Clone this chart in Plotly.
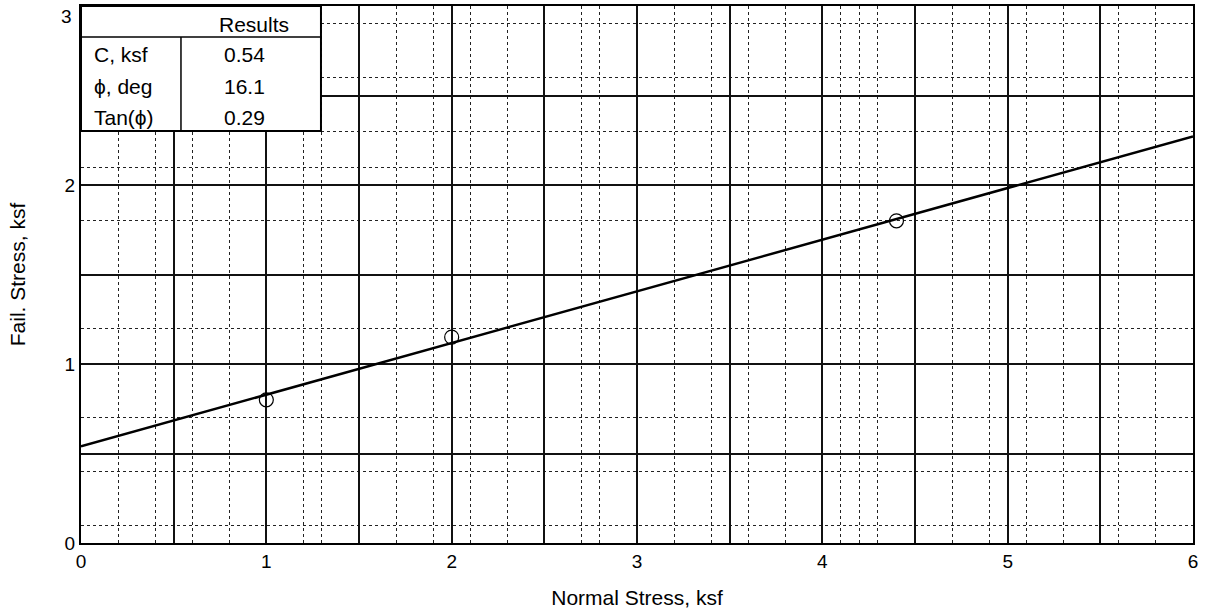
import plotly.graph_objects as go

# ---- data ----
normal_stress = [1.0, 2.0, 4.4]          # ksf
fail_stress = [0.80, 1.15, 1.80]          # ksf
cohesion = 0.54                           # ksf
tan_phi = 0.2886
fit_x = [0.0, 6.0]
fit_y = [cohesion + tan_phi * v for v in fit_x]

x_major = [0, 0.5, 1, 1.5, 2, 2.5, 3, 3.5, 4, 4.5, 5, 5.5, 6]
x_major_text = ["0", "", "1", "", "2", "", "3", "", "4", "", "5", "", "6"]
y_major = [0, 0.5, 1, 1.5, 2, 2.5, 3]
y_major_text = ["0", "", "1", "", "2", "", ""]
y_top_label_pos = 2.94
y_top_label_text = "3"
x_minor = [0.2, 0.4, 0.6, 0.8, 1.2, 1.3, 1.7, 1.9, 2.1, 2.3, 2.7, 2.8, 3.2, 3.4,
           3.6, 3.8, 4.1, 4.2, 4.3, 4.7, 4.9, 5.1, 5.3, 5.6, 5.8]
y_minor = [0.1, 0.4, 0.7, 1.2, 1.8, 2.1, 2.3, 2.6, 2.9]

table_header = "Results"
table_labels = ["C, ksf", "\u03d5, deg", "Tan(\u03d5)"]
table_values = ["0.54", "16.1", "0.29"]

FONT = "Liberation Sans"
FS_TICK = 19
FS_TITLE = 21
FS_TABLE = 21

fig = go.Figure()
fig.add_trace(go.Scatter(x=fit_x, y=fit_y, mode="lines",
                         line=dict(color="black", width=2.5), showlegend=False,
                         hoverinfo="skip"))
fig.add_trace(go.Scatter(x=normal_stress, y=fail_stress, mode="markers",
                         marker=dict(symbol="circle-open", size=14,
                                     color="black", line=dict(width=1.2)),
                         showlegend=False))

# ---- results table (layout decoration, in paper coordinates) ----
tx0, tx1 = 0.0, 0.2158     # table left/right
ty0, ty1 = 0.7672, 1.0     # table bottom/top
t_head = 0.9423            # header divider
t_col = 0.0899             # column divider
head_x = 0.1556
val_x = 0.1466
fig.add_shape(type="rect", xref="paper", yref="paper", x0=tx0, x1=tx1, y0=ty0, y1=ty1,
              fillcolor="white", line=dict(color="black", width=2), layer="above")
fig.add_shape(type="line", xref="paper", yref="paper", x0=tx0, x1=tx1, y0=t_head, y1=t_head,
              line=dict(color="black", width=1.5), layer="above")
fig.add_shape(type="line", xref="paper", yref="paper", x0=t_col, x1=t_col, y0=ty0, y1=t_head,
              line=dict(color="black", width=1.5), layer="above")
fig.add_annotation(xref="paper", yref="paper", x=head_x, xanchor="center",
                   y=(ty1 + t_head) / 2 - 0.005, yanchor="middle", text=table_header,
                   showarrow=False, font=dict(family=FONT, size=FS_TABLE, color="black"))
row_h = (t_head - ty0) / 3
for i, (lab, val) in enumerate(zip(table_labels, table_values)):
    yc = t_head - row_h * (i + 0.5) - 0.004
    fig.add_annotation(xref="paper", yref="paper", x=tx0 + 0.010, y=yc, text=lab,
                       showarrow=False, xanchor="left", yanchor="middle",
                       font=dict(family=FONT, size=FS_TABLE, color="black"))
    fig.add_annotation(xref="paper", yref="paper", x=val_x, y=yc, xanchor="center",
                       text=val, showarrow=False, yanchor="middle",
                       font=dict(family=FONT, size=FS_TABLE, color="black"))

# top y tick label, drawn slightly below the frame as in the original
fig.add_annotation(xref="paper", yref="y", x=-0.006, y=y_top_label_pos, xanchor="right",
                   yanchor="middle", text=y_top_label_text, showarrow=False,
                   font=dict(family=FONT, size=FS_TICK, color="black"))

axis_common = dict(showline=True, mirror=True, linecolor="black", linewidth=2,
                   showgrid=True, gridcolor="#111", gridwidth=1.5, zeroline=False,
                   automargin=False, ticks="",
                   tickfont=dict(family=FONT, size=FS_TICK, color="black"))

fig.update_xaxes(range=[0, 6], tickmode="array", tickvals=x_major, ticktext=x_major_text,
                 minor=dict(tickmode="array", tickvals=x_minor, showgrid=True,
                            griddash="dot", gridcolor="#222", gridwidth=1.2),
                 title=dict(text="Normal Stress, ksf", standoff=20,
                            font=dict(family=FONT, size=FS_TITLE, color="black")),
                 **axis_common)
fig.update_yaxes(range=[0, 3], tickmode="array", tickvals=y_major, ticktext=y_major_text,
                 minor=dict(tickmode="array", tickvals=y_minor, showgrid=True,
                            griddash="dot", gridcolor="#222", gridwidth=1.2),
                 title=dict(text="Fail. Stress, ksf", standoff=33,
                            font=dict(family=FONT, size=FS_TITLE, color="black")),
                 **axis_common)

fig.update_layout(width=1207, height=613, plot_bgcolor="white", paper_bgcolor="white",
                  margin=dict(l=81, r=14, t=6, b=70), showlegend=False)

fig.write_html("out.html", config={"displayModeBar": False},
               post_script="document.body.style.margin='0';")
